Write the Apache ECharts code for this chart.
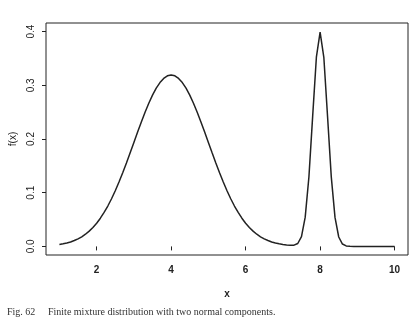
<!DOCTYPE html>
<html>
<head>
<meta charset="utf-8">
<script src="https://cdn.jsdelivr.net/npm/echarts@6/dist/echarts.min.js"></script>
<style>html,body{margin:0;padding:0;background:#fff;}#c{width:418px;height:324px;}</style>
</head>
<body>
<div id="c"></div>
<script>
const xValues = [1.0,1.1,1.2,1.3,1.4,1.5,1.6,1.7,1.8,1.9,2.0,2.1,2.2,2.3,2.4,2.5,2.6,2.7,2.8,2.9,
3.0,3.1,3.2,3.3,3.4,3.5,3.6,3.7,3.8,3.9,4.0,4.1,4.2,4.3,4.4,4.5,4.6,4.7,4.8,4.9,
5.0,5.1,5.2,5.3,5.4,5.5,5.6,5.7,5.8,5.9,6.0,6.1,6.2,6.3,6.4,6.5,6.6,6.7,6.8,6.9,
7.0,7.1,7.2,7.3,7.4,7.5,7.6,7.7,7.8,7.9,8.0,8.1,8.2,8.3,8.4,8.5,8.6,8.7,8.8,8.9,
9.0,9.1,9.2,9.3,9.4,9.5,9.6,9.7,9.8,9.9,10.0];
const fValues = [0.0035,0.0048,0.0063,0.0083,0.0109,0.0140,0.0179,0.0227,0.0284,0.0352,
0.0432,0.0525,0.0632,0.0752,0.0887,0.1036,0.1198,0.1371,0.1553,0.1743,
0.1936,0.2129,0.2318,0.2498,0.2666,0.2817,0.2946,0.3051,0.3128,0.3176,
0.3192,0.3176,0.3128,0.3051,0.2946,0.2817,0.2666,0.2498,0.2318,0.2129,
0.1936,0.1743,0.1553,0.1371,0.1198,0.1036,0.0887,0.0752,0.0632,0.0525,
0.0432,0.0352,0.0284,0.0227,0.0179,0.0140,0.0109,0.0083,0.0063,0.0048,
0.0035,0.0026,0.0020,0.0023,0.0054,0.0182,0.0545,0.1298,0.2422,0.3523,
0.3990,0.3521,0.2420,0.1295,0.0540,0.0175,0.0044,0.0009,0.0001,0,
0,0,0,0,0,0,0,0,0,0,0];
const xTicks = [2,4,6,8,10];
const yTicks = [0,0.1,0.2,0.3,0.4];
const xLabel = 'x';
const yLabel = 'f(x)';
const captionFig = 'Fig. 62';
const captionText = 'Finite mixture distribution with two normal components.';

const chart = echarts.init(document.getElementById('c'), null, {renderer:'canvas'});
const ink = '#222';
chart.setOption({
  animation:false,
  backgroundColor:'#fff',
  grid:{left:45, right:10, top:23, bottom:69, show:true, borderColor:ink, borderWidth:1, backgroundColor:'transparent'},
  xAxis:{
    type:'value', min:0.64, max:10.36,
    name:xLabel, nameLocation:'middle', nameGap:34,
    nameTextStyle:{fontFamily:'Liberation Sans', fontSize:10, fontWeight:'bold', color:ink},
    axisLine:{show:false},
    splitLine:{show:false},
    axisTick:{show:true, length:4, customValues:xTicks, lineStyle:{color:ink}},
    axisLabel:{customValues:xTicks, margin:10, fontFamily:'Liberation Sans', fontSize:10, fontWeight:'bold', color:ink}
  },
  yAxis:{
    type:'value', min:-0.016, max:0.416,
    name:yLabel, nameLocation:'middle', nameGap:28, nameRotate:90,
    nameTextStyle:{fontFamily:'Liberation Sans', fontSize:10, color:ink},
    axisLine:{show:false},
    splitLine:{show:false},
    axisTick:{show:true, length:4, customValues:yTicks, lineStyle:{color:ink}},
    axisLabel:{customValues:yTicks, rotate:90, margin:10, fontFamily:'Liberation Sans', fontSize:10, color:ink,
      formatter:v=>v.toFixed(1)}
  },
  series:[{
    type:'line', showSymbol:false, smooth:false,
    data:xValues.map((x,i)=>[x,fValues[i]]),
    lineStyle:{color:ink, width:1.5}
  }],
  graphic:[
    {type:'text', left:7, top:307, style:{text:captionFig, font:'10px "Liberation Serif"', fill:'#333'}},
    {type:'text', left:48, top:307, style:{text:captionText, font:'10px "Liberation Serif"', fill:'#333'}}
  ]
});
</script>
</body>
</html>
